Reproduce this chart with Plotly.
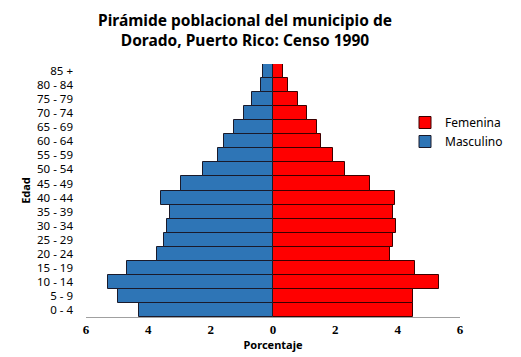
import plotly.graph_objects as go

edades = ["0 - 4", "5 - 9", "10 - 14", "15 - 19", "20 - 24", "25 - 29", "30 - 34",
          "35 - 39", "40 - 44", "45 - 49", "50 - 54", "55 - 59", "60 - 64",
          "65 - 69", "70 - 74", "75 - 79", "80 - 84", "85 +"]
masculino = [4.29, 4.96, 5.31, 4.70, 3.71, 3.51, 3.40, 3.32, 3.58, 2.95,
             2.26, 1.75, 1.57, 1.24, 0.92, 0.66, 0.37, 0.31]
femenina = [4.49, 4.49, 5.33, 4.55, 3.75, 3.85, 3.94, 3.85, 3.91, 3.11,
            2.31, 1.92, 1.54, 1.41, 1.09, 0.80, 0.48, 0.32]
tick_vals = [-6, -4, -2, 0, 2, 4, 6]
tick_text = ["6", "4", "2", "0", "2", "4", "6"]

fig = go.Figure()
fig.add_trace(go.Bar(
    y=edades, x=femenina, orientation="h", name="Femenina",
    marker=dict(color="#ff0000", line=dict(color="#3a0000", width=1)),
))
fig.add_trace(go.Bar(
    y=edades, x=[-v for v in masculino], orientation="h", name="Masculino",
    marker=dict(color="#2e75b6", line=dict(color="#1a1a2a", width=1)),
))

fig.add_annotation(
    text="Pirámide poblacional del municipio de<br>Dorado, Puerto Rico: Censo 1990",
    xref="paper", yref="paper", x=(245 - 86) / 374, y=1 + (64 - 30) / 253,
    xanchor="center", yanchor="middle", showarrow=False,
    font=dict(family="Noto Sans", size=15.5, color="black", weight="bold"),
)

fig.update_layout(
    width=521, height=357,
    margin=dict(l=86, r=61, t=64, b=40, autoexpand=False),
    paper_bgcolor="white", plot_bgcolor="white",
    barmode="overlay", bargap=0,
    font=dict(family="Noto Sans", size=11, color="black"),
    legend=dict(
        x=(405 - 86) / 374, y=(317 - 108) / 253, xanchor="left", yanchor="top",
        font=dict(family="Noto Sans", size=12),
        bgcolor="rgba(0,0,0,0)", tracegroupgap=4,
    ),
    showlegend=True,
)
fig.update_xaxes(
    range=[-6, 6], tickvals=tick_vals, ticktext=tick_text,
    tickfont=dict(family="Liberation Serif", size=13, weight="bold"),
    showgrid=False, showline=True, linecolor="#a0a0a0", linewidth=1,
    zeroline=True, zerolinecolor="#a0a0a0", zerolinewidth=1,
    layer="above traces", automargin=False,
    title=dict(text="Porcentaje", font=dict(family="Noto Sans", size=11, weight="bold"),
               standoff=0),
    ticks="", fixedrange=True,
)
fig.update_yaxes(
    type="category", categoryorder="array", categoryarray=edades,
    showgrid=False, showline=False, zeroline=False, ticks="",
    ticklabelstandoff=12, automargin=False,
    tickfont=dict(family="Noto Sans", size=11.5),
    title=dict(text="Edad", font=dict(family="Noto Sans", size=11, weight="bold"),
               standoff=4),
)

fig.write_html("out.html", config={"displayModeBar": False},
               post_script="document.body.style.margin='0';")
